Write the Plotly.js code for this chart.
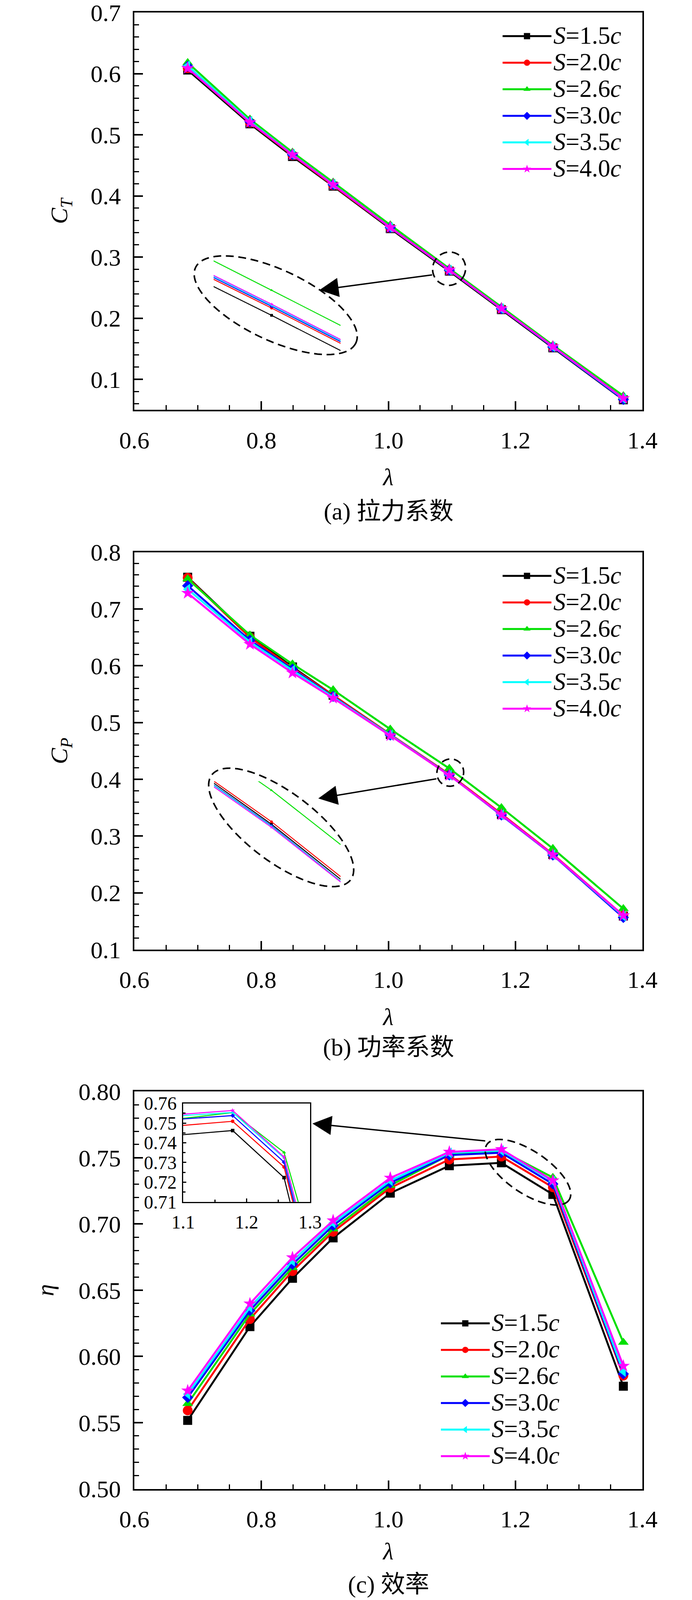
<!DOCTYPE html>
<html>
<head>
<meta charset="utf-8">
<script src="https://cdn.plot.ly/plotly-3.0.1.min.js"></script>
<style>html,body{margin:0;padding:0;background:#fff;overflow:hidden;}</style>
</head>
<body>
<div id="chart"></div>
<script>
// ---------------- data ----------------
const lambda = [0.684, 0.782, 0.849, 0.913, 1.003, 1.096, 1.178, 1.259, 1.370];

const seriesNames = ['S=1.5c', 'S=2.0c', 'S=2.6c', 'S=3.0c', 'S=3.5c', 'S=4.0c'];

// thrust coefficient C_T
const ct15 = [0.606, 0.518, 0.4645, 0.416, 0.3465, 0.2770, 0.2140, 0.1515, 0.0665];
const ct20 = [0.609, 0.520, 0.4665, 0.4175, 0.3478, 0.2783, 0.2152, 0.1528, 0.0680];
const ct26 = [0.618, 0.5255, 0.4715, 0.4225, 0.3525, 0.2815, 0.2185, 0.1560, 0.0730];
const ct30 = [0.612, 0.5215, 0.4675, 0.4185, 0.3482, 0.2786, 0.2155, 0.1530, 0.0670];
const ct35 = [0.613, 0.522, 0.468, 0.419, 0.3485, 0.2788, 0.2157, 0.1532, 0.0685];
const ct40 = [0.609, 0.5205, 0.4675, 0.4185, 0.3485, 0.2790, 0.2158, 0.1535, 0.0690];

// power coefficient C_P
const cp15 = [0.756, 0.652, 0.598, 0.548, 0.479, 0.4080, 0.3380, 0.2675, 0.159];
const cp20 = [0.755, 0.650, 0.596, 0.548, 0.479, 0.4088, 0.3390, 0.2680, 0.160];
const cp26 = [0.753, 0.654, 0.603, 0.5575, 0.4883, 0.4190, 0.3500, 0.2780, 0.172];
const cp30 = [0.741, 0.645, 0.594, 0.546, 0.478, 0.4075, 0.3370, 0.2665, 0.1565];
const cp35 = [0.735, 0.642, 0.592, 0.545, 0.478, 0.4073, 0.3375, 0.2670, 0.159];
const cp40 = [0.728, 0.638, 0.5875, 0.543, 0.477, 0.4070, 0.3375, 0.2670, 0.160];

// efficiency eta
const eta15 = [0.5517, 0.6225, 0.659, 0.6895, 0.7233, 0.7440, 0.7462, 0.7223, 0.5775];
const eta20 = [0.5592, 0.6282, 0.6644, 0.6941, 0.7273, 0.7487, 0.7509, 0.7277, 0.5855];
const eta26 = [0.5644, 0.632, 0.667, 0.6962, 0.7291, 0.7522, 0.7553, 0.7351, 0.6106];
const eta30 = [0.5690, 0.6346, 0.6695, 0.6988, 0.7311, 0.7520, 0.7538, 0.7302, 0.5868];
const eta35 = [0.5715, 0.637, 0.672, 0.7008, 0.7327, 0.7537, 0.7554, 0.7323, 0.5886];
const eta40 = [0.5741, 0.6398, 0.6747, 0.7026, 0.7348, 0.7544, 0.7564, 0.7328, 0.5928];

const captionLabels = ['(a)', '(b)', '(c)'];
const captionTexts = ['拉力系数', '功率系数', '效率'];

// ---------------- styles ----------------
const colors = ['#000000', '#ff0000', '#00e000', '#0000ff', '#00ffff', '#ff00ff'];
const symbols = ['square', 'circle', 'triangle-up', 'diamond', 'triangle-left', 'star'];
const msizes = [23, 25, 24, 22, 24, 25];

// design size (reference) and actual viewport size
const DW = 1772, DH = 4204;
const W = Math.min(window.innerWidth || DW, DW) || DW;
const H = Math.min(window.innerHeight || DH, DH) || DH;
const sx = W / DW, sy = H / DH;
document.getElementById('chart').style.width = W + 'px';
document.getElementById('chart').style.height = H + 'px';

const px = v => v / DW;
const py = v => 1 - v / DH;

const SERIF = 'Liberation Serif';

function legendName(n) {
  const m = n.match(/^S=(.*)c$/);
  return '<span style="font-size:63px"><i>S</i>=' + m[1] + '<i>c</i></span>';
}

const panels = [
  {data: [ct15, ct20, ct26, ct30, ct35, ct40], main: ['x', 'y'], inset: ['x2', 'y2'], legend: 'legend'},
  {data: [cp15, cp20, cp26, cp30, cp35, cp40], main: ['x3', 'y3'], inset: ['x4', 'y4'], legend: 'legend2'},
  {data: [eta15, eta20, eta26, eta30, eta35, eta40], main: ['x5', 'y5'], inset: ['x6', 'y6'], legend: 'legend3'}
];

const traces = [];
panels.forEach((p, pi) => {
  p.data.forEach((vals, i) => {
    traces.push({
      type: 'scatter', mode: 'lines+markers', x: lambda, y: vals,
      xaxis: p.main[0], yaxis: p.main[1],
      name: legendName(seriesNames[i]), legend: p.legend, showlegend: true,
      line: {color: colors[i], width: 5},
      marker: {symbol: symbols[i], color: colors[i], size: msizes[i]},
      cliponaxis: false, hoverinfo: 'skip'
    });
  });
  p.data.forEach((vals, i) => {
    traces.push({
      type: 'scatter', mode: 'lines+markers', x: lambda, y: vals,
      xaxis: p.inset[0], yaxis: p.inset[1], showlegend: false,
      line: {color: colors[i], width: pi === 2 ? 2.6 : 2.4},
      marker: {symbol: symbols[i], color: colors[i], size: pi === 2 ? 9 : 7},
      cliponaxis: true, hoverinfo: 'skip'
    });
  });
});

// ---------------- axes ----------------
const xDom = [px(344), px(1645)];
function mainX(anchor, standoff) {
  return {
    domain: xDom, anchor: anchor, range: [0.6, 1.4], tick0: 0.6, dtick: 0.2, tickformat: '.1f',
    ticks: 'inside', ticklen: 22, tickwidth: 4, tickcolor: '#000',
    minor: {dtick: 0.05, ticks: 'inside', ticklen: 12, tickwidth: 3, tickcolor: '#000'},
    showline: true, linewidth: 4, linecolor: '#000', mirror: true,
    showgrid: false, zeroline: false, ticklabelstandoff: 20, ticklabeloverflow: 'allow',
    tickfont: {family: SERIF, size: 62, color: '#000'},
    title: {text: '<i>λ</i>', font: {family: SERIF, size: 62, color: '#000'}, standoff: standoff}
  };
}
function mainY(anchor, dom, range, dtick, minor, fmt, title, standoff) {
  return {
    domain: dom, anchor: anchor, range: range, tick0: 0, dtick: dtick, tickformat: fmt,
    ticks: 'inside', ticklen: 22, tickwidth: 4, tickcolor: '#000',
    minor: {dtick: minor, ticks: 'inside', ticklen: 12, tickwidth: 3, tickcolor: '#000'},
    showline: true, linewidth: 4, linecolor: '#000', mirror: true,
    showgrid: false, zeroline: false, ticklabelstandoff: 18, ticklabeloverflow: 'allow',
    tickfont: {family: SERIF, size: 62, color: '#000'},
    title: {text: title, font: {family: SERIF, size: 62, color: '#000'}, standoff: standoff}
  };
}
function hiddenAxis(dom, range, anchor) {
  return {domain: dom, range: range, anchor: anchor, visible: false, showgrid: false, zeroline: false};
}
function legendBox(xp, yp) {
  return {x: px(xp), y: py(yp), xanchor: 'left', yanchor: 'top', bgcolor: 'rgba(0,0,0,0)',
          borderwidth: 0, itemwidth: 125, font: {family: SERIF, size: 50, color: '#000'}};
}

const layout = {
  width: W, height: H, margin: {l: 0, r: 0, t: 0, b: 0},
  paper_bgcolor: '#fff', plot_bgcolor: 'rgba(0,0,0,0)', showlegend: true,
  xaxis: mainX('y', 40),
  yaxis: mainY('x', [py(1077), py(33)], [0.05, 0.70001], 0.1, 0.02, '.1f', '<i>C</i><sub><i>T</i></sub>', 40),
  xaxis3: mainX('y3', 40),
  yaxis3: mainY('x3', [py(2495), py(1451)], [0.1, 0.80001], 0.1, 0.02, '.1f', '<i>C</i><sub><i>P</i></sub>', 40),
  xaxis5: mainX('y5', 28),
  yaxis5: mainY('x5', [py(3912), py(2868)], [0.5, 0.80001], 0.05, 0.01, '.2f', '<i>η</i>', 44),
  xaxis2: hiddenAxis([px(547), px(872)], [1.0891, 1.1042], 'y2'),
  yaxis2: hiddenAxis([py(925), py(682)], [0.27043, 0.28700], 'x2'),
  xaxis4: hiddenAxis([px(548), px(872)], [1.0786, 1.1169], 'y4'),
  yaxis4: hiddenAxis([py(2330), py(2053)], [0.3877, 0.4219], 'x4'),
  xaxis6: {
    domain: [px(469), px(794)], anchor: 'y6', range: [1.1, 1.3], tick0: 1.1, dtick: 0.1, tickformat: '.1f',
    ticks: 'inside', ticklen: 9, tickwidth: 3, tickcolor: '#000',
    minor: {dtick: 0.05, ticks: 'inside', ticklen: 6, tickwidth: 3, tickcolor: '#000'},
    showline: true, linewidth: 3, linecolor: '#000', mirror: true, showgrid: false, zeroline: false,
    ticklabelstandoff: 8, ticklabeloverflow: 'allow', tickfont: {family: SERIF, size: 48, color: '#000'}
  },
  yaxis6: {
    domain: [py(3158), py(2899)], anchor: 'x6', range: [0.71, 0.76001], tick0: 0.71, dtick: 0.01, tickformat: '.2f',
    ticks: 'inside', ticklen: 8, tickwidth: 3, tickcolor: '#000',
    minor: {dtick: 0.005, ticks: 'inside', ticklen: 6, tickwidth: 3, tickcolor: '#000'},
    showline: true, linewidth: 3, linecolor: '#000', mirror: true, showgrid: false, zeroline: false,
    ticklabelstandoff: 4, ticklabeloverflow: 'allow', tickfont: {family: SERIF, size: 48, color: '#000'}
  },
  legend: legendBox(1282, 55),
  legend2: legendBox(1282, 1473),
  legend3: legendBox(1124, 3437),
  shapes: [], annotations: []
};

// ellipse outline helper (paper coordinates, decoration only)
function ellipsePath(cx, cy, a, b, deg) {
  const t = deg * Math.PI / 180;
  let s = '';
  for (let k = 0; k <= 90; k++) {
    const u = 2 * Math.PI * k / 90;
    const X = cx + a * Math.cos(u) * Math.cos(t) - b * Math.sin(u) * Math.sin(t);
    const Y = cy + a * Math.cos(u) * Math.sin(t) + b * Math.sin(u) * Math.cos(t);
    s += (k ? 'L' : 'M') + px(X).toFixed(5) + ',' + py(Y).toFixed(5);
  }
  return s + 'Z';
}
const dashLine = {color: '#000', width: 4, dash: '20px,12px'};
[
  [706, 802, 228, 92, 26], [1150, 706, 42, 44, 20],
  [720, 2174, 225, 90, 38], [1153, 2030, 34, 36, 20],
  [1352, 3080, 128, 55, 35]
].forEach(e => {
  layout.shapes.push({type: 'path', xref: 'paper', yref: 'paper', path: ellipsePath(...e), line: dashLine});
});

// arrows
[[818, 762, 290, -40], [815, 2098, 304, -52], [800, 2952, 444, 46]].forEach(a => {
  layout.annotations.push({
    xref: 'paper', yref: 'paper', x: px(a[0]), y: py(a[1]), ax: a[2] * sx, ay: a[3] * sy,
    text: '', showarrow: true, arrowhead: 2, arrowsize: 2.8, arrowwidth: 3.5, arrowcolor: '#000', standoff: 0
  });
});

// captions: (a), (b) follow the panels; (c) is kept just inside the bottom edge
const captionY = [py(1337), py(2746), 46 / H];
captionY.forEach((yy, i) => {
  layout.annotations.push({
    xref: 'paper', yref: 'paper', x: px(995), y: yy, xanchor: 'center', yanchor: 'middle',
    text: captionLabels[i] + ' <span style="font-family:Noto Sans CJK SC">' + captionTexts[i] + '</span>',
    showarrow: false, font: {family: SERIF, size: 62, color: '#000'}
  });
});

Plotly.newPlot('chart', traces, layout, {staticPlot: true});
</script>
</body>
</html>
